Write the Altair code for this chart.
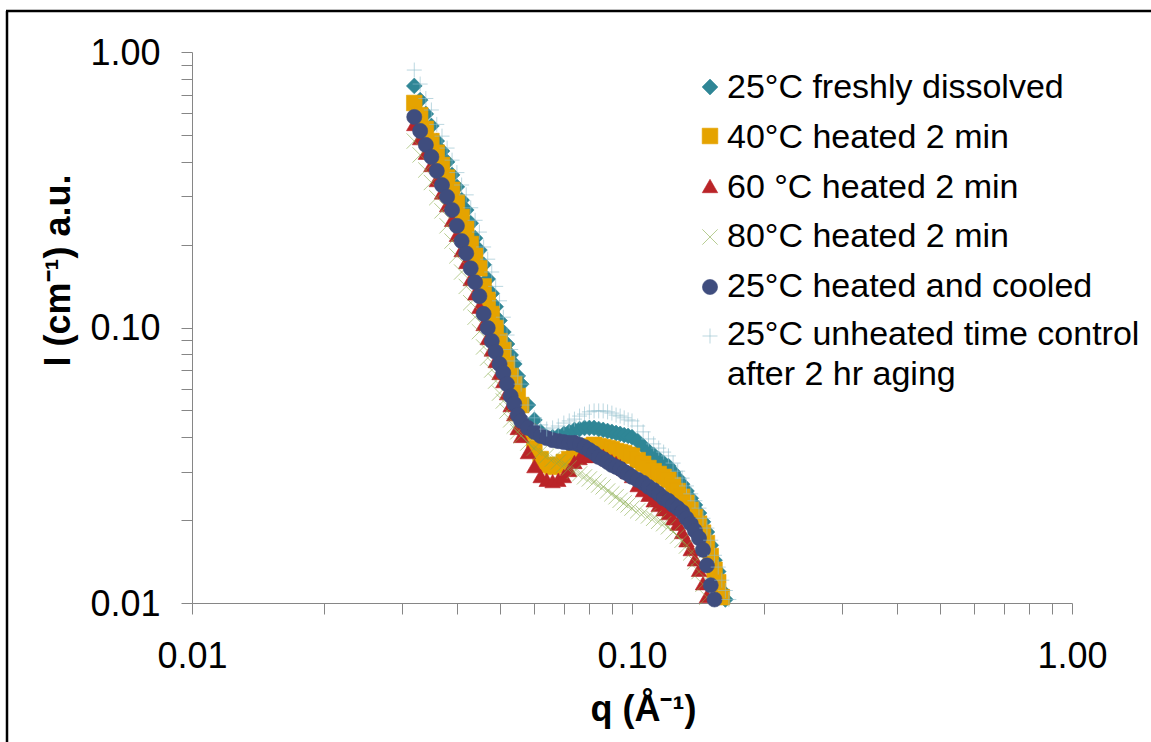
import altair as alt
import pandas as pd

# ---------------- data ----------------
Q = [0.032, 0.033, 0.034, 0.035, 0.036, 0.037, 0.038, 0.039, 0.040, 0.041,
     0.042, 0.043, 0.044, 0.045, 0.046, 0.047, 0.048, 0.049, 0.050, 0.051,
     0.052, 0.053, 0.054, 0.055, 0.056,
     0.058, 0.060, 0.062, 0.064, 0.066, 0.068, 0.070, 0.072, 0.074, 0.076,
     0.078, 0.080, 0.082, 0.084, 0.086, 0.088, 0.090, 0.092, 0.094, 0.096,
     0.098, 0.100,
     0.103, 0.106, 0.109, 0.112, 0.115, 0.118, 0.121, 0.124, 0.127, 0.130,
     0.133, 0.136, 0.139, 0.142, 0.145, 0.148, 0.151, 0.154, 0.157, 0.160,
     0.163, 0.166]

NAMES = ["25°C freshly dissolved", "40°C heated 2 min", "60 °C heated 2 min",
         "80°C heated 2 min", "25°C heated and cooled",
         "25°C unheated time control after 2 hr aging"]

I_FRESH = [0.753, 0.669, 0.596, 0.539, 0.475, 0.437, 0.399, 0.358, 0.324, 0.290,
           0.267, 0.239, 0.211, 0.191, 0.169, 0.150, 0.133, 0.119, 0.106, 0.0963,
           0.0871, 0.0795, 0.0737, 0.0667, 0.0623, 0.0523, 0.0462, 0.0418, 0.0400, 0.0400,
           0.0404, 0.0411, 0.0418, 0.0425, 0.0428, 0.0432, 0.0432, 0.0432, 0.0428, 0.0425,
           0.0421, 0.0418, 0.0414, 0.0411, 0.0407, 0.0404, 0.0400, 0.0387, 0.0371, 0.0356,
           0.0345, 0.0333, 0.0322, 0.0314, 0.0299, 0.0284, 0.0270, 0.0255, 0.0240, 0.0227,
           0.0212, 0.0197, 0.0181, 0.0162, 0.0143, 0.0130, 0.0111, 0.0103]

I_40 = [0.653, 0.590, 0.526, 0.475, 0.431, 0.389, 0.350, 0.316, 0.284, 0.252,
        0.228, 0.201, 0.182, 0.164, 0.141, 0.126, 0.112, 0.0996, 0.0893, 0.0829,
        0.0737, 0.0667, 0.0623, 0.0564, 0.0523, 0.0418, 0.0365, 0.0333, 0.0317, 0.0312,
        0.0317, 0.0325, 0.0333, 0.0345, 0.0359, 0.0368, 0.0371, 0.0375, 0.0371, 0.0368,
        0.0365, 0.0362, 0.0356, 0.0353, 0.0350, 0.0345, 0.0342, 0.0330, 0.0320, 0.0309,
        0.0301, 0.0294, 0.0287, 0.0280, 0.0268, 0.0255, 0.0243, 0.0231, 0.0218, 0.0205,
        0.0194, 0.0180, 0.0165, 0.0148, 0.0132, 0.0119, 0.0105]

I_60 = [0.548, 0.487, 0.431, 0.389, 0.343, 0.309, 0.278, 0.246, 0.217, 0.191,
        0.173, 0.150, 0.133, 0.119, 0.103, 0.0916, 0.0832, 0.0756, 0.0684, 0.0639,
        0.0578, 0.0523, 0.0485, 0.0432, 0.0404, 0.0353, 0.0314, 0.0289, 0.0280, 0.0277,
        0.0280, 0.0289, 0.0304, 0.0325, 0.0336, 0.0342, 0.0342, 0.0342, 0.0342, 0.0342,
        0.0333, 0.0327, 0.0322, 0.0314, 0.0307, 0.0299, 0.0289, 0.0268, 0.0257, 0.0247,
        0.0236, 0.0227, 0.0219, 0.0212, 0.0203, 0.0194, 0.0181, 0.0169, 0.0157, 0.0144,
        0.0132, 0.0118, 0.0106]

I_80 = [0.475, 0.423, 0.373, 0.336, 0.296, 0.265, 0.234, 0.206, 0.182, 0.159,
        0.141, 0.123, 0.109, 0.0966, 0.0850, 0.0775, 0.0701, 0.0639, 0.0578, 0.0541,
        0.0498, 0.0462, 0.0439, 0.0418, 0.0404, 0.0381, 0.0365, 0.0353, 0.0342, 0.0333,
        0.0325, 0.0317, 0.0309, 0.0301, 0.0294, 0.0287, 0.0282, 0.0275, 0.0268, 0.0264,
        0.0255, 0.0249, 0.0243, 0.0236, 0.0231, 0.0227, 0.0221, 0.0216, 0.0212, 0.0207,
        0.0203, 0.0198, 0.0194, 0.0189, 0.0181, 0.0175, 0.0169, 0.0161, 0.0152, 0.0141,
        0.0130, 0.0117, 0.0105]

I_COOLED = [0.581, 0.517, 0.460, 0.416, 0.370, 0.329, 0.298, 0.267, 0.234, 0.206,
            0.186, 0.164, 0.146, 0.130, 0.112, 0.0996, 0.0893, 0.0815, 0.0737, 0.0684,
            0.0623, 0.0564, 0.0528, 0.0481, 0.0458, 0.0432, 0.0418, 0.0404, 0.0397, 0.0390,
            0.0387, 0.0384, 0.0381, 0.0381, 0.0375, 0.0368, 0.0359, 0.0350, 0.0339, 0.0333,
            0.0325, 0.0317, 0.0312, 0.0307, 0.0299, 0.0294, 0.0287, 0.0280, 0.0273, 0.0264,
            0.0257, 0.0249, 0.0240, 0.0235, 0.0227, 0.0221, 0.0214, 0.0203, 0.0194, 0.0183,
            0.0172, 0.0156, 0.0137, 0.0116, 0.0103]

I_AGED = [0.860, 0.765, 0.678, 0.616, 0.546, 0.495, 0.448, 0.405, 0.365, 0.329,
          0.303, 0.272, 0.245, 0.222, 0.196, 0.177, 0.159, 0.141, 0.125, 0.109,
          0.0939, 0.0832, 0.0756, 0.0667, 0.0623, 0.0523, 0.0470, 0.0443, 0.0428, 0.0432,
          0.0439, 0.0450, 0.0458, 0.0465, 0.0477, 0.0485, 0.0494, 0.0498, 0.0498, 0.0498,
          0.0494, 0.0489, 0.0481, 0.0477, 0.0470, 0.0462, 0.0458, 0.0439, 0.0418, 0.0394,
          0.0378, 0.0365, 0.0353, 0.0342, 0.0322, 0.0301, 0.0284, 0.0266, 0.0249, 0.0235,
          0.0221, 0.0203, 0.0187, 0.0169, 0.0149, 0.0135, 0.0121, 0.0111, 0.0103]

SERIES_VALUES = [I_FRESH, I_40, I_60, I_80, I_COOLED, I_AGED]

TICKS = [0.01, 0.02, 0.03, 0.04, 0.05, 0.06, 0.07, 0.08, 0.09,
         0.1, 0.2, 0.3, 0.4, 0.5, 0.6, 0.7, 0.8, 0.9, 1.0]

LEGEND_LINES = ["25°C freshly dissolved", "40°C heated 2 min", "60 °C heated 2 min",
                "80°C heated 2 min", "25°C heated and cooled",
                "25°C unheated time control", "after 2 hr aging"]

# ---------------- styles ----------------
COLORS = ["#2F8696", "#E5A300", "#BA2428", "#86AB48", "#3F4D7E", "#8DBCCB"]
SHAPES = ["diamond", "square", "triangle-up", "M-1,-1L1,1M-1,1L1,-1", "circle",
          "M-1,0L1,0M0,-1L0,1"]
SIZES = [250, 225, 260, 170, 245, 250]
STROKES = [0.6, 0.6, 0.6, 2.0, 0.6, 2.4]
FONT = "Liberation Sans"
AXIS_GREY = "#868686"

rows = []
for k, (name, vals) in enumerate(zip(NAMES, SERIES_VALUES)):
    for q, v in zip(Q, vals):
        rows.append({"series": name, "sidx": k, "q": q, "I": v})
df = pd.DataFrame(rows)

color_scale = alt.Scale(domain=NAMES, range=COLORS)
shape_scale = alt.Scale(domain=NAMES, range=SHAPES)
size_scale = alt.Scale(domain=NAMES, range=SIZES)
sw_scale = alt.Scale(domain=NAMES, range=STROKES)

sym_enc = dict(
    fill=alt.Fill("series:N", scale=color_scale, legend=None),
    stroke=alt.Stroke("series:N", scale=color_scale, legend=None),
    shape=alt.Shape("series:N", scale=shape_scale, legend=None),
    size=alt.Size("series:N", scale=size_scale, legend=None),
    strokeWidth=alt.StrokeWidth("series:N", scale=sw_scale, legend=None),
)

label_expr = ("(datum.value == 0.01 || datum.value == 0.1 || datum.value == 1) "
              "? format(datum.value, '.2f') : ''")

common_axis = dict(
    values=TICKS, labelExpr=label_expr, grid=False,
    domainColor=AXIS_GREY, tickColor=AXIS_GREY, domainWidth=1, tickWidth=1,
    tickSize=11, labelFont=FONT, labelFontSize=36, labelColor="#000000",
    labelFlush=False, labelOverlap=False,
    titleFont=FONT, titleFontSize=36, titleFontWeight="bold", titleColor="#000000",
)

x_axis = alt.Axis(title="q (Å⁻¹)", labelPadding=25, titleX=451, titleY=117,
                  titleAlign="center", titleBaseline="alphabetic", **common_axis)
y_axis = alt.Axis(title="I (cm⁻¹) a.u.", labelPadding=21, labelOffset=1,
                  titleX=-123, titleY=218, titleAngle=270, titleAlign="center",
                  titleBaseline="alphabetic", **common_axis)

points = alt.Chart(df).mark_point(filled=True, opacity=1).encode(
    x=alt.X("q:Q", scale=alt.Scale(type="log", domain=[0.01, 1]), axis=x_axis),
    y=alt.Y("I:Q", scale=alt.Scale(type="log", domain=[0.01, 1]), axis=y_axis),
    order=alt.Order("sidx:Q"),
    **sym_enc,
)

# ---------------- legend (inside the plot, top right) ----------------
LEG_SYM_X = 518
LEG_SYM_Y = [35, 84, 134, 185, 235, 284]
LEG_TXT_X = 535
LEG_TXT_Y = [46, 96, 146, 195, 245, 293, 333]

layers = [points]
for name, ys in zip(NAMES, LEG_SYM_Y):
    layers.append(
        alt.Chart(pd.DataFrame({"series": [name]})).mark_point(filled=True, opacity=1).encode(
            x=alt.value(LEG_SYM_X), y=alt.value(ys), **sym_enc)
    )
for line, ty in zip(LEGEND_LINES, LEG_TXT_Y):
    layers.append(
        alt.Chart(pd.DataFrame({"t": [line]})).mark_text(
            align="left", baseline="alphabetic", font=FONT, fontSize=34, color="#000000"
        ).encode(x=alt.value(LEG_TXT_X), y=alt.value(ty), text="t:N")
    )

# ---------------- chart frame (top and left border of the picture) ----------------
one = pd.DataFrame({"a": [0]})
layers.append(alt.Chart(one).mark_rule(color="#000000", strokeWidth=2.5).encode(
    x=alt.value(-185), y=alt.value(-41), y2=alt.value(700)))
layers.append(alt.Chart(one).mark_rule(color="#000000", strokeWidth=2.5).encode(
    x=alt.value(-186), x2=alt.value(970), y=alt.value(-41)))

chart = alt.layer(*layers).properties(
    width=880, height=551,
    autosize=alt.AutoSizeParams(type="none"),
    padding={"left": 192, "top": 52, "right": 79, "bottom": 139},
    background="#ffffff",
).configure_view(strokeWidth=0)

chart.save("out.html", embed_options={"renderer": "svg", "actions": False})
